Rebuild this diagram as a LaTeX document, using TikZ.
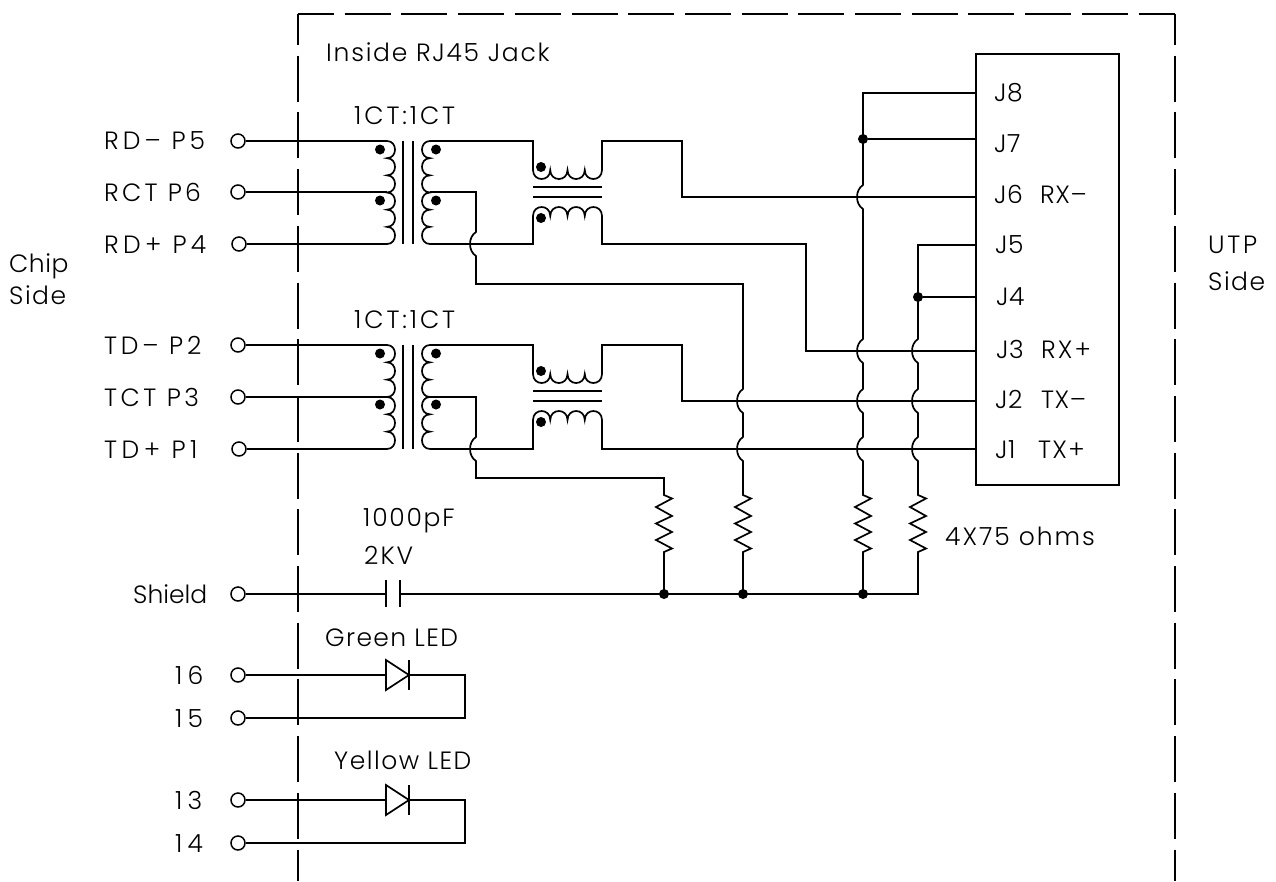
\documentclass[tikz,border=0pt]{standalone}
\usepackage{fontspec}
\setmainfont{Liberation Sans}
\newfontfamily\plotfont[LetterSpace=2]{Poppins Light}
\newcommand{\ls}[1]{\addfontfeature{LetterSpace=#1}}
\tikzset{
  wire/.style={line width=1.7pt,line join=miter,black},
  frame/.style={line width=1.7pt,dash pattern=on 46pt off 10.7pt,black},
  pin/.style={circle,draw,line width=1.5pt,fill=white,minimum size=14pt,inner sep=0pt},
  dot/.style={circle,fill=black,minimum size=10pt,inner sep=0pt},
  lbl/.style={anchor=base west,inner sep=0pt,font=\plotfont\fontsize{25}{30}\selectfont,text=black},
  box/.style={draw,line width=1.7pt,anchor=north west,inner sep=0pt,outer sep=0pt,minimum width=143pt,minimum height=431pt}
}
\newcommand{\jmp}[2]{-- (#1,#2-12) .. controls (#1-8,#2-7) and (#1-8,#2+7) .. (#1,#2+12)}
\newcommand{\zig}[1]{-- (#1,495) -- (#1+8,498.5) -- (#1-8,507) -- (#1+8,516) -- (#1-8,523.5) -- (#1+8,532) -- (#1-8,540) -- (#1+8,548.5) -- (#1,552)}
\newcommand{\coilR}[2]{\draw[wire] (#1) \foreach \i in {1,...,6}{ .. controls +(10.67,0) and +(10.67,0) .. ++(0,#2)};}
\newcommand{\coilL}[2]{\draw[wire] (#1) \foreach \i in {1,...,6}{ .. controls +(-10.67,0) and +(-10.67,0) .. ++(0,#2)};}
\newcommand{\chokeD}[1]{\draw[wire] (#1) \foreach \i in {1,...,4}{ .. controls +(0,12) and +(0,12) .. ++(17.25,0)};}
\newcommand{\chokeU}[1]{\draw[wire] (#1) \foreach \i in {1,...,4}{ .. controls +(0,-12) and +(0,-12) .. ++(17.25,0)};}
\begin{document}
\begin{tikzpicture}[x=1pt,y=-1pt]
\useasboundingbox (0,0) rectangle (1276,881);
\fill[white] (0,0) rectangle (1276,881);
% frame
\coordinate (cTL) at (298,14);
\coordinate (cTR) at (1175,14);
\coordinate (cBL) at (298,881);
\coordinate (cBR) at (1175,881);
\draw[frame,dash phase=15pt] (cTL) -- (cBL);
\draw[frame,dash phase=15pt] (cTR) -- (cBR);
\draw[frame,dash phase=10pt] (cTL) -- (cTR);
% jack box
\node[box] (jack) at (976,54) {};
\foreach \n/\y in {8/93,7/139,6/197,5/245,4/297,3/351,2/401,1/449}{
  \coordinate (J\n) at (976,\y);
}
% transformers
\foreach \o/\k/\st/\mid/\e in {0/a/17.17/192/244,204/b/17.33/397/449}{
  \coordinate (p\k1) at (387,141+\o);
  \coordinate (p\k2) at (387,\mid);
  \coordinate (p\k3) at (387,\e);
  \coordinate (s\k1) at (430,141+\o);
  \coordinate (s\k2) at (430,\mid);
  \coordinate (s\k3) at (430,\e);
  \coordinate (ct\k) at (533,170+\o);
  \coordinate (cb\k) at (533,216+\o);
  \coilR{p\k1}{\st}
  \coilL{s\k1}{\st}
  \draw[wire] (403,141+\o) -- (403,\e);
  \draw[wire] (413,141+\o) -- (413,\e);
  \chokeD{ct\k}
  \chokeU{cb\k}
  \draw[wire] (533,187+\o) -- (602,187+\o);
  \draw[wire] (533,197+\o) -- (602,197+\o);
  \draw[wire] (s\k1) -- (533,141+\o) -- (ct\k);
  \draw[wire] (s\k3) -- (533,\e) -- (cb\k);
  \node[dot] (dp\k1) at (380,149.5+\o) {};
  \node[dot] (dp\k2) at (380,200.5+\o) {};
  \node[dot] (ds\k1) at (436,149.5+\o) {};
  \node[dot] (ds\k2) at (436,200.5+\o) {};
  \node[dot] (dc\k1) at (541,167+\o) {};
  \node[dot] (dc\k2) at (541,218+\o) {};
}
% terminals
\node[pin] (rdm) at (238,141) {};
\node[pin] (rct) at (238,192) {};
\node[pin] (rdp) at (239,244) {};
\node[pin] (tdm) at (238,345) {};
\node[pin] (tct) at (238,397) {};
\node[pin] (tdp) at (239,449) {};
\node[pin] (shd) at (238,594) {};
\node[pin] (p16) at (238,675) {};
\node[pin] (p15) at (238,718) {};
\node[pin] (p13) at (238,800) {};
\node[pin] (p14) at (238,843) {};
\draw[wire] (rdm) -- (pa1);
\draw[wire] (rct) -- (pa2);
\draw[wire] (rdp) -- (pa3);
\draw[wire] (tdm) -- (pb1);
\draw[wire] (tct) -- (pb2);
\draw[wire] (tdp) -- (pb3);
% choke outputs
\draw[wire] (602,170) -- (602,141) -- (682,141) -- (682,197) -- (J6);
\draw[wire] (602,216) -- (602,244) -- (806,244) -- (806,351) -- (J3);
\draw[wire] (602,374) -- (602,345) -- (682,345) -- (682,401) -- (J2);
\draw[wire] (602,420) -- (602,449) -- (J1);
% centre taps
\draw[wire] (sa2) -- (476,192) \jmp{476}{244} -- (476,284) -- (743,284) \jmp{743}{401} \jmp{743}{449} \zig{743} -- (743,594);
\draw[wire] (sb2) -- (476,397) \jmp{476}{449} -- (476,478) -- (664,478) \zig{664} -- (664,594);
% pair shorts
\draw[wire] (J8) -- (863,93) \jmp{863}{197} \jmp{863}{351} \jmp{863}{401} \jmp{863}{449} \zig{863} -- (863,594);
\draw[wire] (J5) -- (918,245) \jmp{918}{351} \jmp{918}{401} \jmp{918}{449} \zig{918} -- (918,594) -- (400,594);
\node[dot] (d7) at (863,139) {};
\node[dot] (d4) at (918,297) {};
\draw[wire] (d7) -- (J7);
\draw[wire] (d4) -- (J4);
\node[dot] (r1) at (664,594) {};
\node[dot] (r2) at (743,594) {};
\node[dot] (r3) at (863,594) {};
% capacitor
\coordinate (capL) at (386,594);
\draw[wire] (shd) -- (capL);
\draw[wire] (386,580) -- (386,607);
\draw[wire] (400,580) -- (400,607);
% LEDs
\foreach \ya/\k in {675/g,800/y}{
  \coordinate (led\k) at (386,\ya);
  \draw[wire] (386,\ya-15) -- (409,\ya) -- (386,\ya+15) -- cycle;
  \draw[wire] (409,\ya-15) -- (409,\ya+15);
}
\draw[wire] (p16) -- (ledg);
\draw[wire] (409,675) -- (465,675) -- (465,718) -- (p15);
\draw[wire] (p13) -- (ledy);
\draw[wire] (409,800) -- (465,800) -- (465,843) -- (p14);
% labels
\node[lbl] (t1) at (326,61) {\ls{7}Inside RJ45 Jack};
\node[lbl] (t2) at (354,124) {\ls{11.5}1CT:1CT};
\node[lbl] (t3) at (354,328) {\ls{11.5}1CT:1CT};
\node[lbl] (t4) at (104,149) {\ls{16}RD– P5};
\node[lbl] (t5) at (104,201) {\ls{13}RCT P6};
\node[lbl] (t6) at (104,253) {\ls{17}RD+ P4};
\node[lbl] (t7) at (104,354) {\ls{15}TD– P2};
\node[lbl] (t8) at (104,406) {\ls{14}TCT P3};
\node[lbl] (t9) at (104,458) {\ls{18}TD+ P1};
\node[lbl] (t10) at (133,603) {\ls{0}Shield};
\node[lbl] (t11) at (175,684) {\ls{20}16};
\node[lbl] (t12) at (175,727) {\ls{20}15};
\node[lbl] (t13) at (175,809) {\ls{20}13};
\node[lbl] (t14) at (175,852) {\ls{20}14};
\node[lbl] (t15) at (9,272) {Chip};
\node[lbl] (t16) at (9,304) {\ls{6}Side};
\node[lbl] (t17) at (1208,253) {\ls{11}UTP};
\node[lbl] (t18) at (1208,290) {\ls{6}Side};
\node[lbl] (t19) at (363,526) {\ls{7}1000pF};
\node[lbl] (t20) at (364,564) {\ls{8}2KV};
\node[lbl] (t21) at (945,545) {\ls{8}4X75 ohms};
\node[lbl] (t22) at (325,646) {\ls{5.5}Green LED};
\node[lbl] (t23) at (334,769) {\ls{6}Yellow LED};
\node[lbl] (j8) at (994,101) {J8};
\node[lbl] (j7) at (994,152) {J7};
\node[lbl] (j6) at (994,203) {J6};
\node[lbl] (j5) at (995,253) {J5};
\node[lbl] (j4) at (996,305) {J4};
\node[lbl] (j3) at (996,358) {J3};
\node[lbl] (j2) at (995,408) {J2};
\node[lbl] (j1) at (995,458) {J1};
\node[lbl] (x1) at (1040,203) {RX–};
\node[lbl] (x2) at (1041,358) {\ls{8}RX+};
\node[lbl] (x3) at (1041,408) {TX–};
\node[lbl] (x4) at (1038,458) {\ls{5}TX+};
\end{tikzpicture}
\end{document}
